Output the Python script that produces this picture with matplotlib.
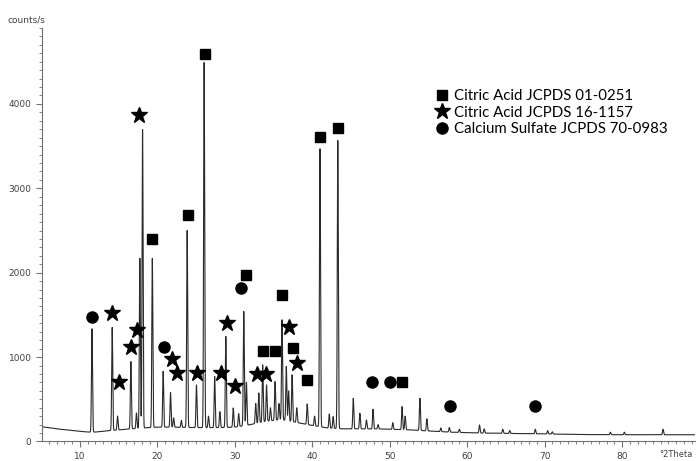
import numpy as np
import matplotlib
matplotlib.use("Agg")
import matplotlib.pyplot as plt
from matplotlib.ticker import MultipleLocator

# diffraction peaks: 2theta (deg), top counts
peak_pos = [11.56, 14.17, 14.86, 16.58, 17.30, 17.74, 18.09, 19.35, 20.75,
            21.70, 22.10, 23.10, 23.85, 25.05, 26.04, 26.60, 27.40, 28.07,
            28.84, 29.80, 30.50, 31.16, 31.50, 32.70, 33.10, 33.60, 34.10,
            34.60, 35.20, 35.70, 36.10, 36.65, 36.95, 37.40, 38.00, 39.35,
            40.30, 41.00, 42.20, 42.70, 43.30, 45.30, 46.15, 47.00, 47.85,
            48.50, 50.40, 51.60, 52.00, 53.90, 54.80, 56.60, 57.70, 59.00,
            61.60, 62.20, 64.60, 65.50, 68.80, 70.40, 71.00, 78.50, 80.30,
            85.30]
peak_top = [1335, 1351, 302, 947, 338, 2170, 3697, 2170, 830,
            580, 280, 250, 2500, 670, 4490, 300, 770, 354,
            1245, 397, 330, 1540, 700, 450, 575, 908, 670,
            400, 710, 450, 1442, 888, 600, 790, 400, 445,
            300, 3468, 326, 295, 3567, 512, 335, 255, 382,
            200, 223, 413, 300, 512, 270, 160, 165, 145,
            196, 150, 145, 130, 145, 128, 115, 110, 110,
            145]

# background level under the peaks
base_pos = [5.1, 7, 9, 11, 12, 14, 16, 18, 20, 22, 25, 28, 30, 32, 34, 36,
            38, 40, 42, 44, 46, 48, 50, 52, 55, 58, 62, 66, 70, 75, 80, 85, 89.4]
base_cnt = [175, 150, 130, 112, 112, 130, 145, 160, 170, 170, 165, 165, 170,
            200, 240, 260, 225, 190, 160, 150, 150, 150, 145, 140, 125, 110,
            100, 95, 90, 82, 80, 80, 80]

# phase markers (2theta, counts)
ca1_x = [19.33, 23.90, 26.09, 31.51, 36.03, 33.65, 35.16, 37.52, 39.33, 41.01, 43.38, 51.64]
ca1_y = [2400, 2689, 4588, 1968, 1731, 1074, 1074, 1113, 730, 3611, 3713, 710]
ca2_x = [14.17, 15.03, 16.54, 17.39, 17.65, 21.83, 22.55, 25.06, 28.28, 28.93,
         30.00, 32.88, 34.09, 37.01, 38.04]
ca2_y = [1522, 710, 1118, 1324, 3864, 976, 810, 810, 810, 1410,
         659, 798, 798, 1356, 928]
cs_x = [11.55, 20.88, 30.74, 47.77, 50.09, 57.74, 68.71]
cs_y = [1478, 1125, 1818, 703, 703, 421, 421]

labels = ["Citric Acid JCPDS 01-0251", "Citric Acid JCPDS 16-1157",
          "Calcium Sulfate JCPDS 70-0983"]


def main():
    tt = np.arange(5.1, 89.4, 0.01)
    counts = np.interp(tt, base_pos, base_cnt)
    for p, h in zip(peak_pos, peak_top):
        amp = h - np.interp(p, base_pos, base_cnt)
        counts = counts + amp * np.exp(-0.5 * ((tt - p) / 0.065) ** 2)

    fig = plt.figure(figsize=(6.96, 4.61), dpi=100)
    ax = fig.add_axes([0.0603, 0.0423, 0.938, 0.897])

    ax.plot(tt, counts, color="#2a2a2a", lw=0.8)

    m1, = ax.plot(ca1_x, ca1_y, ls="none", marker="s", ms=7, color="black")
    m2, = ax.plot(ca2_x, ca2_y, ls="none", marker="*", ms=12, color="black")
    m3, = ax.plot(cs_x, cs_y, ls="none", marker="o", ms=8, color="black")

    ax.set_xlim(5.1, 89.4)
    ax.set_ylim(0, 4900)

    for s in ["top", "right"]:
        ax.spines[s].set_visible(False)
    for s in ["left", "bottom"]:
        ax.spines[s].set_color("#707070")

    ax.xaxis.set_major_locator(MultipleLocator(10))
    ax.xaxis.set_minor_locator(MultipleLocator(1))
    ax.yaxis.set_major_locator(MultipleLocator(1000))
    ax.yaxis.set_minor_locator(MultipleLocator(100))
    ax.tick_params(which="both", color="#707070", labelcolor="#404040",
                   labelsize=6.5, direction="out")
    ax.tick_params(which="major", length=4)
    ax.tick_params(which="minor", length=2.5)

    fig.text(8 / 696, 1 - 20 / 461, "counts/s", fontsize=6.5,
             color="#404040", va="center")
    fig.text(693 / 696, 2 / 461, "°2Theta", fontsize=6,
             color="#404040", va="bottom", ha="right")

    ax.legend([m1, m2, m3], labels, loc="upper left",
              bbox_to_anchor=(434 / 696, 1 - 89 / 461),
              bbox_transform=fig.transFigure, frameon=False,
              prop={"family": "Lato", "size": 10.8},
              handletextpad=0.35, labelspacing=0.18, handlelength=1.0,
              borderaxespad=0, borderpad=0)

    fig.savefig("out.png", dpi=100)


if __name__ == "__main__":
    main()
